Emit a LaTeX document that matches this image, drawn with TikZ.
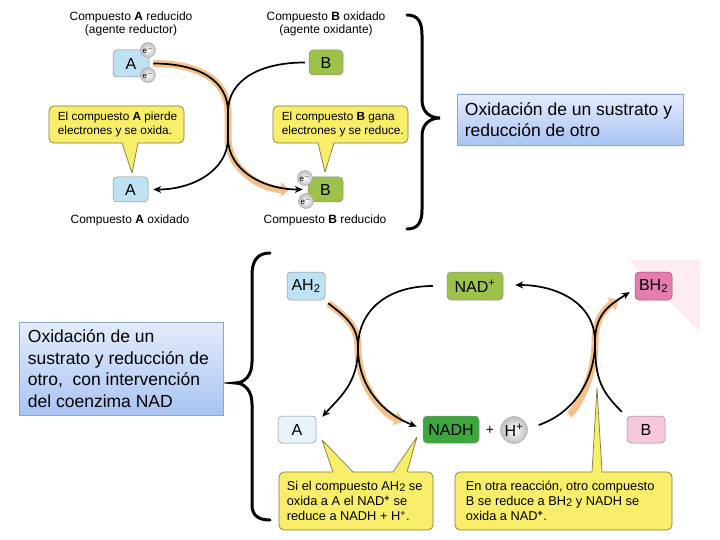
\documentclass[tikz,border=0pt]{standalone}
\usepackage{fontspec}
\setmainfont{Liberation Sans}
\usetikzlibrary{arrows.meta,shapes.geometric}
\definecolor{lblue}{HTML}{BFE1F4}
\definecolor{bgreen}{HTML}{9DC24A}
\definecolor{apale}{HTML}{E6F3FB}
\definecolor{nadhgreen}{HTML}{3DA63D}
\definecolor{bhpink}{HTML}{E57DB0}
\definecolor{bhedge}{HTML}{A04A78}
\definecolor{bpale}{HTML}{F7C8DD}
\definecolor{calloutfill}{HTML}{F9EE6A}
\definecolor{calloutedge}{HTML}{7D7A3A}
\definecolor{notetop}{HTML}{E4ECFC}
\definecolor{notebot}{HTML}{A8C4F3}
\definecolor{noteedge}{HTML}{8EA5CC}
\definecolor{glowc}{HTML}{F5C089}
\definecolor{pinkbg}{HTML}{FDEDF0}
\newcommand{\lowtwo}{\raisebox{-0.8pt}{\fontsize{11}{11}\selectfont 2}}
\begin{document}
\begin{tikzpicture}[x=1pt,y=-1pt,
  mol/.style={rounded corners=4pt, draw=black!45, line width=0.5pt, inner sep=0pt, font=\fontsize{16}{16}\selectfont},
  callout/.style={rounded corners=5pt, fill=calloutfill, draw=calloutedge, line width=0.7pt, inner sep=0pt},
  ctext/.style={align=left, inner sep=0pt, anchor=west},
  tailfill/.style={fill=calloutfill},
  tailedge/.style={draw=calloutedge, line width=0.7pt, line join=round},
  note/.style={draw=noteedge, top color=notetop, bottom color=notebot, line width=0.6pt, inner sep=0pt},
  ntext/.style={align=left, inner sep=0pt, anchor=west, font=\fontsize{17.5}{21.5}\selectfont},
  elec/.style={circle, draw=gray!70, inner sep=0pt, minimum size=15pt, inner color=white, outer color=gray!50, font=\fontsize{8}{8}\selectfont},
  arr/.style={line width=1.7pt, -{Stealth[length=8pt,width=7pt]}},
  glow/.style={line width=7pt, draw=glowc, -{Triangle[length=9pt,width=14pt]}},
  lbl/.style={align=center, font=\fontsize{12}{13}\selectfont},
  bracepath/.style={line width=3pt, line cap=round}]
\useasboundingbox (0,0) rectangle (720,540);

% ---------- top part ----------
\node[mol, fill=lblue, minimum width=36, minimum height=27] (A1) at (131,63.5) {A};
\node[mol, fill=bgreen, minimum width=34, minimum height=25] (B1) at (326,62.5) {B};
\node[mol, fill=lblue, minimum width=35, minimum height=25] (A2) at (130.5,189.5) {A};
\node[mol, fill=bgreen, minimum width=35, minimum height=25] (B2) at (325.5,189.5) {B};

\coordinate (X1) at (228,112);
\coordinate (X2) at (228,138);

\draw[glow, shorten >=13pt] ([xshift=4]A1.east) .. controls +(45,0) and +(0,-32) .. (X1) -- (X2) .. controls +(0,32) and +(-40,0) .. ([xshift=-5]B2.west);
\draw[arr] ([xshift=-4]B1.west) .. controls +(-45,0) and +(0,-32) .. (X1) -- (X2) .. controls +(0,32) and +(40,0) .. ([xshift=5]A2.east);
\draw[arr] ([xshift=4]A1.east) .. controls +(45,0) and +(0,-32) .. (X1) -- (X2) .. controls +(0,32) and +(-40,0) .. ([xshift=-5]B2.west);

\node[elec] (e1) at (148,50) {e$^-$};
\node[elec] (e2) at (148,75) {e$^-$};
\node[elec] (e3) at (305,178) {e$^-$};
\node[elec] (e4) at (306,201) {e$^-$};

\node[lbl] (LA1) at (131,23.5) {Compuesto \textbf{A} reducido\\(agente reductor)};
\node[lbl] (LB1) at (326,23.5) {Compuesto \textbf{B} oxidado\\(agente oxidante)};
\node[lbl] (LA2) at (130,220) {Compuesto \textbf{A} oxidado};
\node[lbl] (LB2) at (325,220) {Compuesto \textbf{B} reducido};

\node[callout, minimum width=135, minimum height=37] (C1) at (116.5,124.5) {};
\coordinate (t1) at (132,173);
\fill[tailfill] (122,141.5) -- (t1) -- (138,141.5) -- cycle;
\draw[tailedge] (122,143) -- (t1) -- (138,143);
\node[ctext, font=\fontsize{11.8}{14}\selectfont] (C1t) at ([xshift=9]C1.west) {El compuesto \textbf{A} pierde\\electrones y se oxida.};

\node[callout, minimum width=135, minimum height=37] (C2) at (340.5,124.5) {};
\coordinate (t2) at (325,172);
\fill[tailfill] (318,141.5) -- (t2) -- (334,141.5) -- cycle;
\draw[tailedge] (318,143) -- (t2) -- (334,143);
\node[ctext, font=\fontsize{11.8}{14}\selectfont] (C2t) at ([xshift=9]C2.west) {El compuesto \textbf{B} gana\\electrones y se reduce.};

\draw[bracepath] (407,15) .. controls (418,15) and (422,22) .. (422,35) -- (422,100) .. controls (422,112) and (430,118) .. (440,118) .. controls (430,118) and (422,124) .. (422,136) -- (422,210) .. controls (422,222) and (418,229) .. (407,229);

\node[note, minimum width=226, minimum height=51] (N1) at (570,119.5) {};
\node[ntext] (N1t) at ([xshift=8]N1.west) {Oxidación de un sustrato y\\reducción de otro};

% ---------- lower part ----------
\fill[pinkbg] (628,260) -- (700,260) -- (700,332) -- cycle;

\node[mol, fill=lblue, minimum width=38, minimum height=28] (AH) at (306,286) {AH\textsubscript{2}};
\node[mol, fill=bgreen, minimum width=56, minimum height=28] (NADp) at (475,286) {NAD\textsuperscript{+}};
\node[mol, fill=bhpink, draw=bhedge, minimum width=37, minimum height=28] (BH) at (653.5,286) {BH\textsubscript{2}};
\node[mol, fill=apale, minimum width=38, minimum height=27] (A3) at (297,429.5) {A};
\node[mol, fill=nadhgreen, minimum width=56, minimum height=27] (NADH) at (451,429.5) {NADH};
\node[font=\fontsize{14}{14}\selectfont] (plus) at (490,430) {+};
\node[elec, minimum size=27, font=\fontsize{16}{16}\selectfont] (Hp) at (514,430) {H\textsuperscript{+}};
\node[mol, fill=bpale, minimum width=38, minimum height=27] (B3) at (646,429.5) {B};

\coordinate (Y1) at (358,348);
\coordinate (Y2) at (595,342);

\draw[glow, shorten >=14pt] ([shift={(3,3)}]AH.south east) .. controls +(18,14) and +(0,-22) .. (Y1) .. controls +(0,40) and +(-32,-12) .. ([shift={(-6,-3)}]NADH.west);
\draw[glow, shorten <=32pt, shorten >=13pt] ([shift={(11,-5)}]Hp.east) .. controls +(35,-12) and +(0,38) .. (Y2) .. controls +(0,-30) and +(-18,12) .. ([shift={(-5,6)}]BH.west);

\draw[arr] ([xshift=-14]NADp.west) .. controls +(-45,0) and +(0,-38) .. (Y1) .. controls +(0,35) and +(18,-20) .. ([shift={(6,1)}]A3.north east);
\draw[arr] ([shift={(3,3)}]AH.south east) .. controls +(18,14) and +(0,-22) .. (Y1) .. controls +(0,40) and +(-32,-12) .. ([shift={(-6,-3)}]NADH.west);
\draw[arr] ([shift={(-5,-4)}]B3.north west) .. controls +(-20,-20) and +(0,38) .. (Y2) .. controls +(0,-40) and +(40,0) .. ([shift={(12,-1)}]NADp.east);
\draw[arr] ([shift={(11,-5)}]Hp.east) .. controls +(35,-12) and +(0,38) .. (Y2) .. controls +(0,-30) and +(-18,12) .. ([shift={(-5,6)}]BH.west);

\node[callout, minimum width=154, minimum height=58] (C3) at (356,501) {};
\coordinate (t3) at (322,440);
\coordinate (t4) at (417,437);
\fill[tailfill] (333,473.5) -- (t3) -- (353,473.5) -- cycle;
\draw[tailedge] (333,472) -- (t3) -- (353,472);
\fill[tailfill] (393,473.5) -- (t4) -- (407,473.5) -- cycle;
\draw[tailedge] (393,472) -- (t4) -- (407,472);
\node[ctext, font=\fontsize{12.8}{15}\selectfont] (C3t) at ([xshift=8]C3.west) {Si el compuesto AH\lowtwo{} se\\oxida a A el NAD\textsuperscript{\textbf{+}} se\\reduce a NADH + H\textsuperscript{+}.};

\node[callout, minimum width=217, minimum height=58] (C4) at (563.5,501) {};
\coordinate (t5) at (597,388);
\fill[tailfill] (592,473.5) -- (t5) -- (602,473.5) -- cycle;
\draw[tailedge] (592,472) -- (t5) -- (602,472);
\node[ctext, font=\fontsize{12.8}{15}\selectfont] (C4t) at ([xshift=11]C4.west) {En otra reacción, otro compuesto\\B se reduce a BH\lowtwo{} y NADH se\\oxida a NAD\textsuperscript{\textbf{+}}.};

\draw[bracepath] (270,253) .. controls (258,253) and (252,260) .. (252,275) -- (252,362) .. controls (252,375) and (245,383) .. (235,383) .. controls (245,383) and (252,391) .. (252,404) -- (252,505) .. controls (252,515) and (258,520) .. (270,520);

\node[note, minimum width=204, minimum height=93] (N2) at (121,368.5) {};
\node[ntext] (N2t) at ([xshift=9]N2.west) {Oxidación de un\\sustrato y reducción de\\otro,\ \ con intervención\\del coenzima NAD};
\end{tikzpicture}
\end{document}
